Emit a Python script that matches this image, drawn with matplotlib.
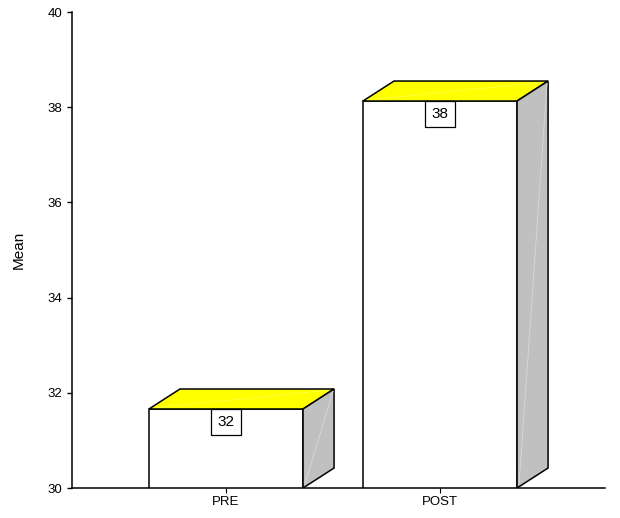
import matplotlib.pyplot as plt
from matplotlib.patches import Polygon

plt.rcParams['font.family'] = ['Liberation Sans', 'DejaVu Sans']

# data
groups = ['PRE', 'POST']
means = [31.66, 38.13]

y_min, y_max = 30, 40
y_ticks = [30, 32, 34, 36, 38, 40]

# bar geometry (data units on x, depth offsets)
bar_w = 0.72
dx = 0.145
dy = 0.42

fig = plt.figure(figsize=(6.2, 5.18), dpi=100)
ax = fig.add_axes([0.1161, 0.0579, 0.8597, 0.9189])

for i, (g, m) in enumerate(zip(groups, means)):
    l, r = i - bar_w / 2, i + bar_w / 2
    # front face
    ax.add_patch(Polygon([(l, y_min), (r, y_min), (r, m), (l, m)],
                         closed=True, facecolor='white', edgecolor='black',
                         linewidth=1.1, zorder=3))
    # top face
    ax.add_patch(Polygon([(l, m), (r, m), (r + dx, m + dy), (l + dx, m + dy)],
                         closed=True, facecolor='#ffff00', edgecolor='black',
                         linewidth=1.1, zorder=3))
    # side face
    ax.add_patch(Polygon([(r, y_min), (r + dx, y_min + dy), (r + dx, m + dy), (r, m)],
                         closed=True, facecolor='#c0c0c0', edgecolor='black',
                         linewidth=1.1, zorder=3))
    # faint seams on the shaded faces
    ax.plot([r + 0.01, r + dx - 0.005], [y_min + 0.1, m + dy - 0.05],
            color='#d8d8d8', linewidth=0.6, zorder=4)
    ax.plot([l + 0.03, r + dx - 0.03], [m + 0.03, m + dy - 0.03],
            color='#ffff50', linewidth=0.5, zorder=4)
    # value label
    ax.annotate(f'{m:.0f}', xy=(i, m), xytext=(0, -4.5), textcoords='offset points',
                ha='center', va='top', fontsize=11, zorder=5,
                bbox=dict(boxstyle='square,pad=0.4', facecolor='white',
                          edgecolor='black', linewidth=0.9))

ax.set_xlim(-0.7196, 1.771)
ax.set_ylim(y_min, y_max)
ax.set_yticks(y_ticks)
ax.set_xticks(range(len(groups)))
ax.set_xticklabels(groups, fontsize=9.5)
ax.tick_params(axis='y', labelsize=9.5, direction='out', length=3.5, width=1)
ax.tick_params(axis='x', direction='out', length=3.5, width=0.8, pad=2)
ax.set_ylabel('Mean', fontsize=11, labelpad=16)

for s in ['top', 'right']:
    ax.spines[s].set_visible(False)
for s in ['left', 'bottom']:
    ax.spines[s].set_linewidth(1.1)

fig.savefig('out.png', dpi=100)
